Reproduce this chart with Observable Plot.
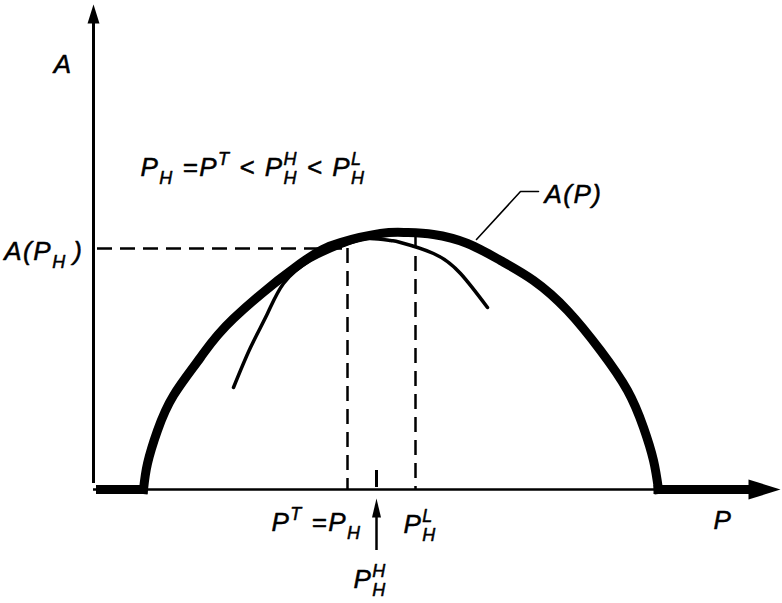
<!DOCTYPE html>
<html><head><meta charset="utf-8">
<script src="https://cdn.jsdelivr.net/npm/d3@7"></script>
<script src="https://cdn.jsdelivr.net/npm/@observablehq/plot@0.6"></script>
<style>body{margin:0;background:#fff}</style>
</head><body><div id="chart"></div>
<script>
// ---- Data (diagram units) ----
// Thick curve A(P)
const thickP = [5.0, 5.4, 6.4, 8.0, 10.7, 14.0, 20.7, 24.7, 28.7, 31.2, 34.0, 37.4, 40.7, 44.0, 47.4, 50.7, 53.4, 55.0, 56.0, 56.5];
const thickA = [0, 2.6, 5.9, 9.4, 13.2, 17.1, 22.6, 24.7, 25.6, 25.7, 25.5, 24.6, 22.9, 20.9, 17.9, 13.9, 9.9, 6.2, 2.9, 0];
// Thin tangent curve
const thinP = [14.0, 15.7, 17.4, 19.0, 21.7, 25.0, 27.4, 29.7, 30.7, 34.0, 36.7, 39.4];
const thinA = [10.2, 14.2, 17.6, 20.6, 22.9, 24.4, 25.1, 24.9, 24.7, 23.6, 21.6, 18.2];
// Flat (zero) parts of A(P)
const flatLeftP = [0.75, 5.0];
const flatRightP = [56.5, 66.0];
// Key values
const P_H = 25.4;      // P^T = P_H
const A_PH = 24.1;     // A(P_H)
const P_HH = 28.3;     // P^H_H
const P_LH = 32.2;     // P^L_H
const A_PLH = 25.6;    // A(P^L_H)
const P_MAX = 68.7;    // end of P axis
const A_MAX = 48.5;    // end of A axis
// Leader line of the A(P) label
const leaderP = [44.5, 42.7, 38.3];
const leaderA = [29.8, 29.8, 25.0];
// Labels
const labelA = "A";
const labelP = "P";
const labelCurve = "A(P)";
const labelAPH = "A(P_{H}\u2009)";
const labelFormula = "P_{H} =P^{T} < P^{H}_{H} < P^{L}_{H}";
const labelPT = "P^{T} =P_{H}";
const labelPL = "P^{L}_{H}";
const labelPHH = "P^{H}_{H}";

// ---- Helpers ----
const pts = (xs, ys) => xs.map((x, i) => ({p: x, a: ys[i]}));
const arrowRight = {draw(c) { c.moveTo(0, 0); c.lineTo(-32, -10); c.lineTo(-32, 10); c.closePath(); }};
const arrowUpBig = {draw(c) { c.moveTo(0, 0); c.lineTo(-6, 19); c.lineTo(6, 19); c.closePath(); }};
const arrowUpSmall = {draw(c) { c.moveTo(0, 0); c.lineTo(-4.5, 19); c.lineTo(4.5, 19); c.closePath(); }};

const FONT = "Liberation Sans, Arimo, Helvetica, sans-serif";
const MAIN = 26, SCRIPT = 18, LS = 1.5;
const txt = (s, opts) => Plot.text([s], {text: d => d, fontFamily: FONT, fontStyle: "italic", fontSize: MAIN,
  lineAnchor: "bottom", fill: "black", stroke: "black", strokeWidth: 0.5, ...opts});

const chart = Plot.plot({
  width: 782,
  height: 603,
  axis: null,
  x: {domain: [0, P_MAX], range: [93, 780]},
  y: {domain: [0, A_MAX], range: [489, 4]},
  marks: [
    // axes
    Plot.ruleY([0], {x1: 0, x2: 66, stroke: "black", strokeWidth: 2.5}),
    Plot.ruleX([0], {y1: 0.6, y2: 47, stroke: "black", strokeWidth: 3}),
    Plot.dot([0], {x: 0, y: A_MAX, r: 5, symbol: arrowUpBig, fill: "black", stroke: "none"}),
    Plot.dot([0], {x: P_MAX, y: 0, r: 5, symbol: arrowRight, fill: "black", stroke: "none"}),
    // dashed guides
    Plot.ruleY([A_PH], {x1: 0.4, x2: P_H, stroke: "black", strokeWidth: 2.5, strokeDasharray: "15,8"}),
    Plot.ruleX([P_H], {y1: A_PH, y2: 0, stroke: "black", strokeWidth: 2.5, strokeDasharray: "15,8"}),
    Plot.ruleX([P_LH], {y1: A_PLH, y2: 0, stroke: "black", strokeWidth: 2.5, strokeDasharray: "15,8"}),
    // tick and arrow at P^H_H
    Plot.ruleX([P_HH], {y1: 0.2, y2: 1.9, stroke: "black", strokeWidth: 3}),
    Plot.ruleX([P_HH], {y1: -6.1, y2: -2.2, stroke: "black", strokeWidth: 2.5}),
    Plot.dot([P_HH], {x: d => d, y: -0.9, r: 5, symbol: arrowUpSmall, fill: "black", stroke: "none"}),
    // thin curve
    Plot.line(pts(thinP, thinA), {x: "p", y: "a", curve: "natural", stroke: "black", strokeWidth: 3.5, strokeLinecap: "round"}),
    // thick curve A(P) and its flat parts
    Plot.line(pts(thickP, thickA), {x: "p", y: "a", curve: "natural", stroke: "black", strokeWidth: 9, strokeLinecap: "square"}),
    Plot.ruleY([0], {x1: flatLeftP[0], x2: flatLeftP[1], stroke: "black", strokeWidth: 9, strokeLinecap: "square"}),
    Plot.ruleY([0], {x1: flatRightP[0], x2: flatRightP[1], stroke: "black", strokeWidth: 9, strokeLinecap: "square"}),
    // leader line
    Plot.line(pts(leaderP, leaderA), {x: "p", y: "a", stroke: "black", strokeWidth: 1.6}),
    // labels
    txt(labelA, {x: 0, y: A_MAX, textAnchor: "end", dx: -21, dy: 68}),
    txt(labelAPH, {x: 0, y: A_PH, textAnchor: "end", dx: -10, dy: 11}),
    txt(labelFormula, {x: 4.7, y: 31.4, textAnchor: "start"}),
    txt(labelCurve, {x: 45.1, y: 28.7, textAnchor: "start"}),
    txt(labelP, {x: 62.0, y: 0, textAnchor: "start", dy: 39}),
    txt(labelPT, {x: P_H, y: 0, textAnchor: "end", dx: 14, dy: 41}),
    txt(labelPL, {x: P_LH, y: 0, textAnchor: "start", dx: -12, dy: 43}),
    txt(labelPHH, {x: P_HH, y: 0, textAnchor: "start", dx: -23, dy: 98})
  ]
});

document.getElementById("chart").appendChild(chart);

// ---- Turn ^{..} and _{..} markup into real super/subscripts ----
const ctx = document.createElement("canvas").getContext("2d");
ctx.font = `italic ${SCRIPT}px ${FONT}`;
const NS = "http://www.w3.org/2000/svg";
function richify(el) {
  const src = el.textContent;
  while (el.firstChild) el.removeChild(el.firstChild);
  el.style.whiteSpace = "pre";
  el.style.letterSpacing = LS + "px";
  const SUP = -0.42 * MAIN, SUB = 0.34 * MAIN;
  let shift = 0;
  const add = (s, size, target, dx) => {
    const t = document.createElementNS(NS, "tspan");
    t.textContent = s;
    t.style.fontSize = size + "px";
    t.setAttribute("dy", target - shift);
    if (dx) t.setAttribute("dx", dx);
    shift = target;
    el.appendChild(t);
  };
  const re = /\^\{([^}]*)\}_\{([^}]*)\}|\^\{([^}]*)\}|_\{([^}]*)\}|([^_^]+)/g;
  let m;
  while ((m = re.exec(src))) {
    if (m[1] !== undefined) {
      add(m[1], SCRIPT, SUP);
      add(m[2], SCRIPT, SUB, -(ctx.measureText(m[1]).width + LS * m[1].length));
    } else if (m[3] !== undefined) add(m[3], SCRIPT, SUP);
    else if (m[4] !== undefined) add(m[4], SCRIPT, SUB);
    else add(m[5], MAIN, 0);
  }
}
chart.querySelectorAll("text").forEach(richify);
</script>
</body></html>
